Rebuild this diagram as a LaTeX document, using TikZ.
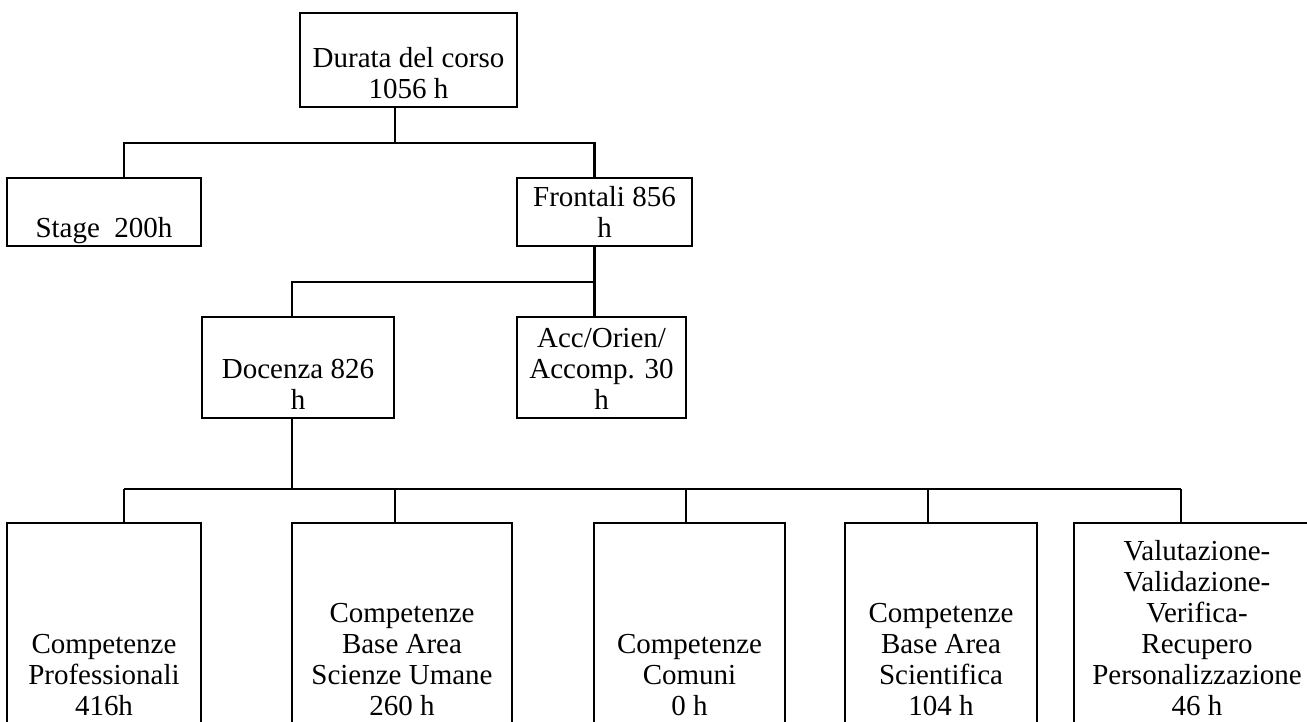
\documentclass[tikz,border=0pt]{standalone}
\usepackage{fontspec}
\setmainfont{Liberation Serif}
\usetikzlibrary{calc}

\tikzset{
  box/.style={draw, line width=2.5pt, inner sep=0pt},
  conn/.style={line width=2.5pt},
  lbl/.style={inner sep=0pt, anchor=south, font=\fontsize{29}{31}\selectfont}
}
\newcommand{\boxlines}[1]{\begin{tabular}[b]{@{}c@{}}#1\end{tabular}}

\begin{document}
\begin{tikzpicture}[x=1pt,y=-1pt]
\useasboundingbox (0,0) rectangle (1307,722);

% Boxes
\node[box, minimum width=217pt, minimum height=94pt] (durata) at (408.5,60) {};
\node[box, minimum width=194pt, minimum height=68pt] (stage) at (104,212) {};
\node[box, minimum width=175pt, minimum height=68pt] (frontali) at (604.5,212) {};
\node[box, minimum width=192pt, minimum height=101pt] (docenza) at (298,367.5) {};
\node[box, minimum width=169pt, minimum height=101pt] (acc) at (601.5,367.5) {};
\node[box, minimum width=194pt, minimum height=205pt] (prof) at (104,625.5) {};
\node[box, minimum width=220pt, minimum height=205pt] (umane) at (402,625.5) {};
\node[box, minimum width=191pt, minimum height=205pt] (comuni) at (689.5,625.5) {};
\node[box, minimum width=192pt, minimum height=205pt] (scient) at (941,625.5) {};
\node[box, minimum width=246pt, minimum height=205pt] (valut) at (1197,625.5) {};

% Texts at the bottom of each box
\node[lbl] (durata-t) at (durata.south) {\boxlines{Durata del corso\\1056 h}};
\node[lbl] (stage-t) at (stage.south) {\boxlines{Stage\ \ 200h}};
\node[lbl] (frontali-t) at (frontali.south) {\boxlines{Frontali 856\\h}};
\node[lbl] (docenza-t) at (docenza.south) {\boxlines{Docenza 826\\h}};
\node[lbl] (acc-t) at (acc.south) {\boxlines{Acc/Orien/\\Accomp. 30\\h}};
\node[lbl] (prof-t) at ([yshift=4pt]prof.south) {\boxlines{Competenze\\Professionali\\416h}};
\node[lbl] (umane-t) at ([yshift=4pt]umane.south) {\boxlines{Competenze\\Base Area\\Scienze Umane\\260 h}};
\node[lbl] (comuni-t) at ([yshift=4pt]comuni.south) {\boxlines{Competenze\\Comuni\\0 h}};
\node[lbl] (scient-t) at ([yshift=4pt]scient.south) {\boxlines{Competenze\\Base Area\\Scientifica\\104 h}};
\node[lbl] (valut-t) at ([yshift=4pt]valut.south) {\boxlines{Valutazione-\\Validazione-\\Verifica-\\Recupero\\Personalizzazione\\46 h}};

% Connectors
\coordinate (j1) at (395,143);
\coordinate (j2) at (594.5,282);
\coordinate (j3) at (292,489);
\draw[conn] (durata.south -| j1) -- (j1);
\draw[conn] ([xshift=20pt]stage.north) |- (j1) -| ([xshift=-10pt]frontali.north);
\draw[conn] (frontali.south -| j2) -- (acc.north -| j2);
\draw[conn] ([xshift=-6pt]docenza.north) |- (j2);
\draw[conn] (docenza.south -| j3) -- (j3);
\draw[conn] ([xshift=20pt]prof.north |- j3) -- ([xshift=-16pt]valut.north |- j3);
\foreach \n/\dx in {prof/20, umane/-7, comuni/-3.5, scient/-13, valut/-16}
  \draw[conn] ([xshift=\dx pt]\n.north) -- ([xshift=\dx pt]\n.north |- j3);
\end{tikzpicture}
\end{document}
